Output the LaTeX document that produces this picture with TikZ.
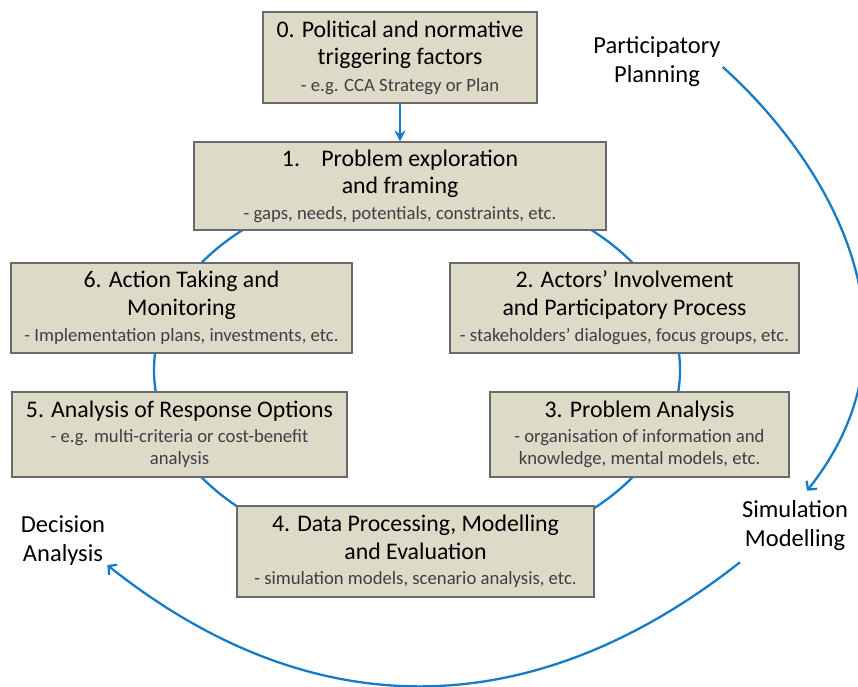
\documentclass[tikz,border=0pt]{standalone}
\usepackage{fontspec}
\setmainfont{Carlito}
\usetikzlibrary{arrows.meta,backgrounds}

\definecolor{boxfill}{RGB}{222,218,200}
\definecolor{boxline}{RGB}{105,105,105}
\definecolor{ringblue}{RGB}{22,124,200}
\definecolor{subtext}{RGB}{62,62,70}

\newcommand{\subline}[1]{{\fontsize{18.7}{22}\selectfont\color{subtext}#1}}

\begin{document}
\begin{tikzpicture}[
  x=1pt, y=-1pt,
  phase/.style={
    rectangle, draw=boxline, line width=1.1pt, fill=boxfill,
    align=center, inner sep=2pt, font=\fontsize{23.8}{27.5}\selectfont
  },
  aside/.style={align=center, inner sep=2pt, font=\fontsize{24.5}{29}\selectfont},
  ring/.style={line width=2.3pt, ringblue},
  arrow/.style={-{Stealth[length=11pt,width=11pt]}, line width=2.3pt, ringblue},
  loop/.style={-{Straight Barb[length=6pt,width=13pt]}, line width=2.3pt, ringblue}
]
\useasboundingbox (0,0) rectangle (858,686);

% === Phase boxes ===
\node[phase, minimum width=274pt, minimum height=91pt] (trigger) at (400,57.5)
  {0. Political and normative\\triggering factors\\[-1pt]\subline{- e.g. CCA Strategy or Plan}};
\node[phase, minimum width=412pt, minimum height=88pt] (explore) at (400,186)
  {1.\hspace{0.9em}Problem exploration\\and framing\\[-2pt]\subline{- gaps, needs, potentials, constraints, etc.}};
\node[phase, minimum width=349pt, minimum height=90pt] (actors) at (624.5,308)
  {2. Actors’ Involvement\\and Participatory Process\\[-1pt]\subline{- stakeholders’ dialogues, focus groups, etc.}};
\node[phase, minimum width=299pt, minimum height=85pt] (analysis) at (639.5,434.5)
  {3. Problem Analysis\\[-3pt]\subline{- organisation of information and}\\[-5pt]\subline{knowledge, mental models, etc.}};
\node[phase, minimum width=357pt, minimum height=91pt] (data) at (415.5,551.5)
  {4. Data Processing, Modelling\\and Evaluation\\[-2pt]\subline{- simulation models, scenario analysis, etc.}};
\node[phase, minimum width=335pt, minimum height=85pt] (options) at (179.5,434.5)
  {5. Analysis of Response Options\\[-3pt]\subline{- e.g. multi-criteria or cost-benefit}\\[-5pt]\subline{analysis}};
\node[phase, minimum width=341pt, minimum height=90pt] (action) at (181.5,308)
  {6. Action Taking and\\Monitoring\\[-1pt]\subline{- Implementation plans, investments, etc.}};

% === Trigger arrow ===
\draw[arrow] (trigger) -- (explore);

% === Cycle ring behind the boxes ===
\begin{scope}[on background layer]
  \draw[ring] (417,370) ellipse [x radius=263pt, y radius=187pt];
\end{scope}

% === Outer labels ===
\node[aside] (plan) at (657,62) {Participatory\\Planning};
\node[aside] (sim) at (795,526) {Simulation\\Modelling};
\node[aside] (dec) at (63,541) {Decision\\Analysis};

% === Outer loop ===
\draw[loop] ([yshift=-5pt]plan.east)
  .. controls (821,155) and (935,330) .. ([xshift=12pt,yshift=8pt]sim.north);
\draw[loop] ([yshift=-9pt]sim.south west)
  .. controls (532,726) and (312,728) .. ([yshift=3pt]dec.south east);

\end{tikzpicture}
\end{document}
